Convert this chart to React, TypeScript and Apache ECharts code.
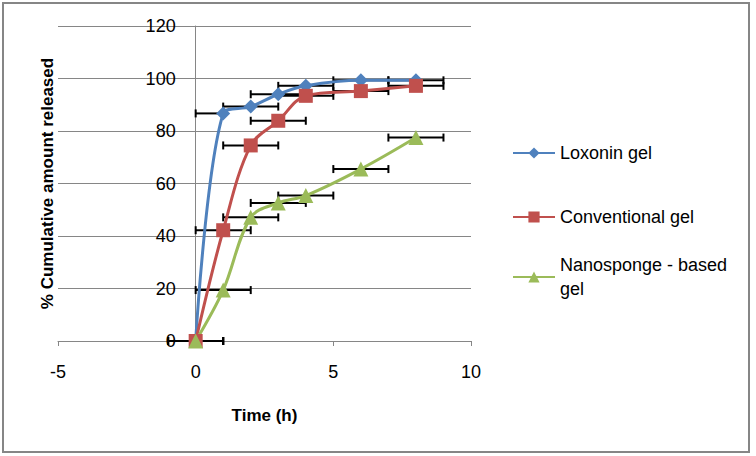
import React, { useEffect, useRef } from "react";
import * as echarts from "echarts";

// ---- data ----
const timeH = [0, 1, 2, 3, 4, 6, 8];
const loxonin = [0, 86.7, 89.3, 94.0, 97.2, 99.3, 99.3];
const conventional = [0, 42.2, 74.5, 83.9, 93.4, 95.2, 97.2];
const nanosponge = [0, 19.4, 47.1, 52.6, 55.4, 65.5, 77.5];

// horizontal error bars (time, h): minus / plus
const loxoninErrMinus = [1, 1, 1, 1, 1, 1, 1];
const loxoninErrPlus = [1, 0, 1, 1, 1, 1, 1];
const conventionalErrMinus = [1, 1, 1, 1, 1, 1, 1];
const conventionalErrPlus = [1, 1, 1, 1, 1, 1, 1];
const nanospongeErrMinus = [1, 1, 1, 1, 1, 1, 1];
const nanospongeErrPlus = [1, 1, 1, 1, 1, 1, 1];

const seriesNames = ["Loxonin gel", "Conventional gel", "Nanosponge - based gel"];
const xTicks = [-5, 0, 5, 10];
const yTicks = [0, 20, 40, 60, 80, 100, 120];
const xAxisTitle = "Time (h)";
const yAxisTitle = "% Cumulative amount released";

const FONT = "'Liberation Sans', Arial, sans-serif";
const COLORS = ["#4F81BD", "#C0504D", "#9BBB59"];
const GRID_GRAY = "#868686";

const GRID_LEFT = 58;
const GRID_RIGHT_PX = 471;

function App() {
  const ref = useRef<HTMLDivElement>(null);

  useEffect(() => {
    if (!ref.current) return;
    const chart = echarts.init(ref.current, undefined, { renderer: "svg" });

    const values = [loxonin, conventional, nanosponge];
    const errs = [
      [loxoninErrMinus, loxoninErrPlus],
      [conventionalErrMinus, conventionalErrPlus],
      [nanospongeErrMinus, nanospongeErrPlus],
    ];
    const symbols = ["diamond", "rect", "triangle"];
    const symbolSizes = [14, 14, 15];

    const errorSeries = values.map((vals, si) => ({
      type: "custom",
      name: seriesNames[si] + " error",
      silent: true,
      z: 1,
      encode: { x: 0, y: 1 },
      data: timeH.map((t, i) => [t, vals[i], errs[si][0][i], errs[si][1][i]]),
      renderItem: (params: any, api: any) => {
        const x = api.value(0);
        const y = api.value(1);
        const em = api.value(2);
        const ep = api.value(3);
        const l = api.coord([x - em, y]);
        const r = api.coord([x + ep, y]);
        const st = { stroke: "#000", lineWidth: 2 };
        const cap = 4;
        const children: any[] = [
          { type: "line", shape: { x1: l[0], y1: l[1], x2: r[0], y2: r[1] }, style: st },
        ];
        if (em > 0)
          children.push({ type: "line", shape: { x1: l[0], y1: l[1] - cap, x2: l[0], y2: l[1] + cap }, style: st });
        if (ep > 0)
          children.push({ type: "line", shape: { x1: r[0], y1: r[1] - cap, x2: r[0], y2: r[1] + cap }, style: st });
        return { type: "group", children };
      },
    }));

    const lineSeries = values.map((vals, si) => ({
      type: "line",
      name: seriesNames[si],
      z: 3,
      smooth: 0.35,
      symbol: symbols[si],
      symbolSize: symbolSizes[si],
      showSymbol: true,
      color: COLORS[si],
      lineStyle: { width: 3, color: COLORS[si] },
      itemStyle: { color: COLORS[si] },
      data: timeH.map((t, i) => [t, vals[i]]),
    }));

    const legendBase = {
      orient: "vertical",
      left: 512,
      itemWidth: 42,
      itemHeight: 14,
      padding: 0,
      selectedMode: false,
      textStyle: { fontSize: 18, fontFamily: FONT, color: "#000" },
    };

    // the y axis crosses at x = 0; its labels sit 20px left of that crossing
    const xMin = xTicks[0];
    const xMax = xTicks[xTicks.length - 1];
    const zeroPx = GRID_LEFT + ((0 - xMin) / (xMax - xMin)) * (GRID_RIGHT_PX - GRID_LEFT);
    const yLabelMargin = 20 - (zeroPx - GRID_LEFT);

    chart.setOption({
      animation: false,
      backgroundColor: "#fff",
      textStyle: { fontFamily: FONT },
      grid: {
        left: GRID_LEFT,
        right: 756 - GRID_RIGHT_PX,
        top: 26,
        bottom: 115,
        containLabel: false,
        outerBoundsMode: "none",
      },
      xAxis: {
        type: "value",
        min: xMin,
        max: xMax,
        interval: xTicks[1] - xTicks[0],
        name: xAxisTitle,
        nameLocation: "middle",
        nameGap: 66,
        nameMoveOverlap: false,
        nameTextStyle: { fontSize: 17, fontWeight: "bold", fontFamily: FONT, color: "#000" },
        axisLine: { onZero: true, lineStyle: { color: GRID_GRAY, width: 1 } },
        axisTick: { show: true, length: 5, lineStyle: { color: GRID_GRAY } },
        axisLabel: { fontSize: 18, fontFamily: FONT, color: "#000", margin: 22 },
        splitLine: { show: false },
      },
      yAxis: {
        type: "value",
        min: yTicks[0],
        max: yTicks[yTicks.length - 1],
        interval: yTicks[1] - yTicks[0],
        name: yAxisTitle,
        nameLocation: "middle",
        nameGap: 2,
        nameMoveOverlap: false,
        nameTextStyle: { fontSize: 17, fontWeight: "bold", fontFamily: FONT, color: "#000" },
        axisLine: { show: true, onZero: true, lineStyle: { color: GRID_GRAY, width: 1 } },
        axisTick: { show: false },
        axisLabel: { fontSize: 18, fontFamily: FONT, color: "#000", margin: yLabelMargin },
        splitLine: { show: true, lineStyle: { color: GRID_GRAY, width: 1 } },
      },
      legend: [
        { ...legendBase, top: 144, data: [seriesNames[0]] },
        { ...legendBase, top: 208, data: [seriesNames[1]] },
        {
          ...legendBase,
          top: 241,
          data: [seriesNames[2]],
          formatter: (name: string) => name.replace("based gel", "based\ngel"),
          textStyle: { ...legendBase.textStyle, lineHeight: 24, padding: [24, 0, 0, 0] },
        },
      ],
      graphic: [
        {
          type: "rect",
          silent: true,
          z: 100,
          shape: { x: 3, y: 3, width: 746, height: 449 },
          style: { fill: "none", stroke: GRID_GRAY, lineWidth: 2 },
        },
      ],
      series: [...errorSeries, ...lineSeries],
    });

    return () => chart.dispose();
  }, []);

  return (
    <div
      ref={ref}
      style={{ position: "absolute", left: 0, top: 0, width: 756, height: 456, background: "#fff" }}
    />
  );
}

export default App;
